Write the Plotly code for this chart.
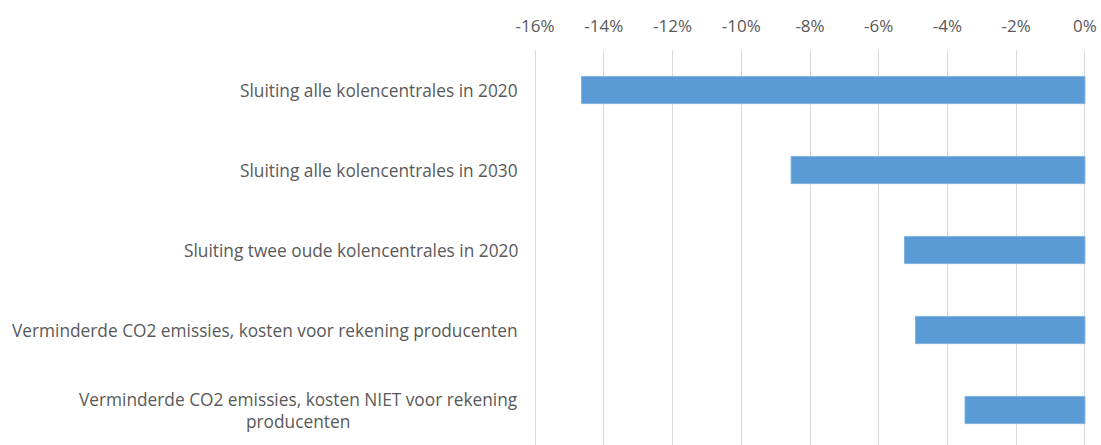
import plotly.graph_objects as go

categories = [
    "Sluiting alle kolencentrales in 2020",
    "Sluiting alle kolencentrales in 2030",
    "Sluiting twee oude kolencentrales in 2020",
    "Verminderde CO2 emissies, kosten voor rekening producenten",
    "Verminderde CO2 emissies, kosten NIET voor rekening<br>producenten",
]
values = [-0.1465, -0.0855, -0.0525, -0.0493, -0.0349]
tick_vals = [-0.16, -0.14, -0.12, -0.10, -0.08, -0.06, -0.04, -0.02, 0.0]
tick_text = ["-16%", "-14%", "-12%", "-10%", "-8%", "-6%", "-4%", "-2%", "0%"]

FONT = "Open Sans"
GREY = "#595959"

fig = go.Figure(
    go.Bar(
        x=values,
        y=list(range(len(categories))),
        orientation="h",
        marker=dict(color="#5B9BD5", line=dict(color="#7FB2E0", width=1)),
        width=0.34,
        hoverinfo="x",
    )
)

for i, c in enumerate(categories):
    fig.add_annotation(
        x=0, xref="paper", xanchor="right", xshift=-13,
        y=i, yref="y", yanchor="middle",
        text=c, showarrow=False, align="center",
        font=dict(family=FONT, size=17.3, color=GREY),
    )

fig.update_layout(
    width=1101, height=445,
    margin=dict(l=533, r=14, t=50, b=0),
    paper_bgcolor="white", plot_bgcolor="white",
    showlegend=False,
    xaxis=dict(
        side="top", range=[-0.1606, 0.0006],
        tickvals=tick_vals, ticktext=tick_text,
        showgrid=True, gridcolor="#D9D9D9", gridwidth=1,
        zeroline=False, showline=False, ticks="",
        ticklabelstandoff=14, ticklabeloverflow="allow",
        tickfont=dict(family=FONT, size=17, color=GREY),
    ),
    yaxis=dict(
        range=[4.4375, -0.5],
        showticklabels=False, showgrid=False, zeroline=False, showline=False,
    ),
)

fig.write_html(
    "out.html",
    config={"displayModeBar": False},
    post_script="document.body.style.margin='0';document.body.style.overflow='hidden';",
)
